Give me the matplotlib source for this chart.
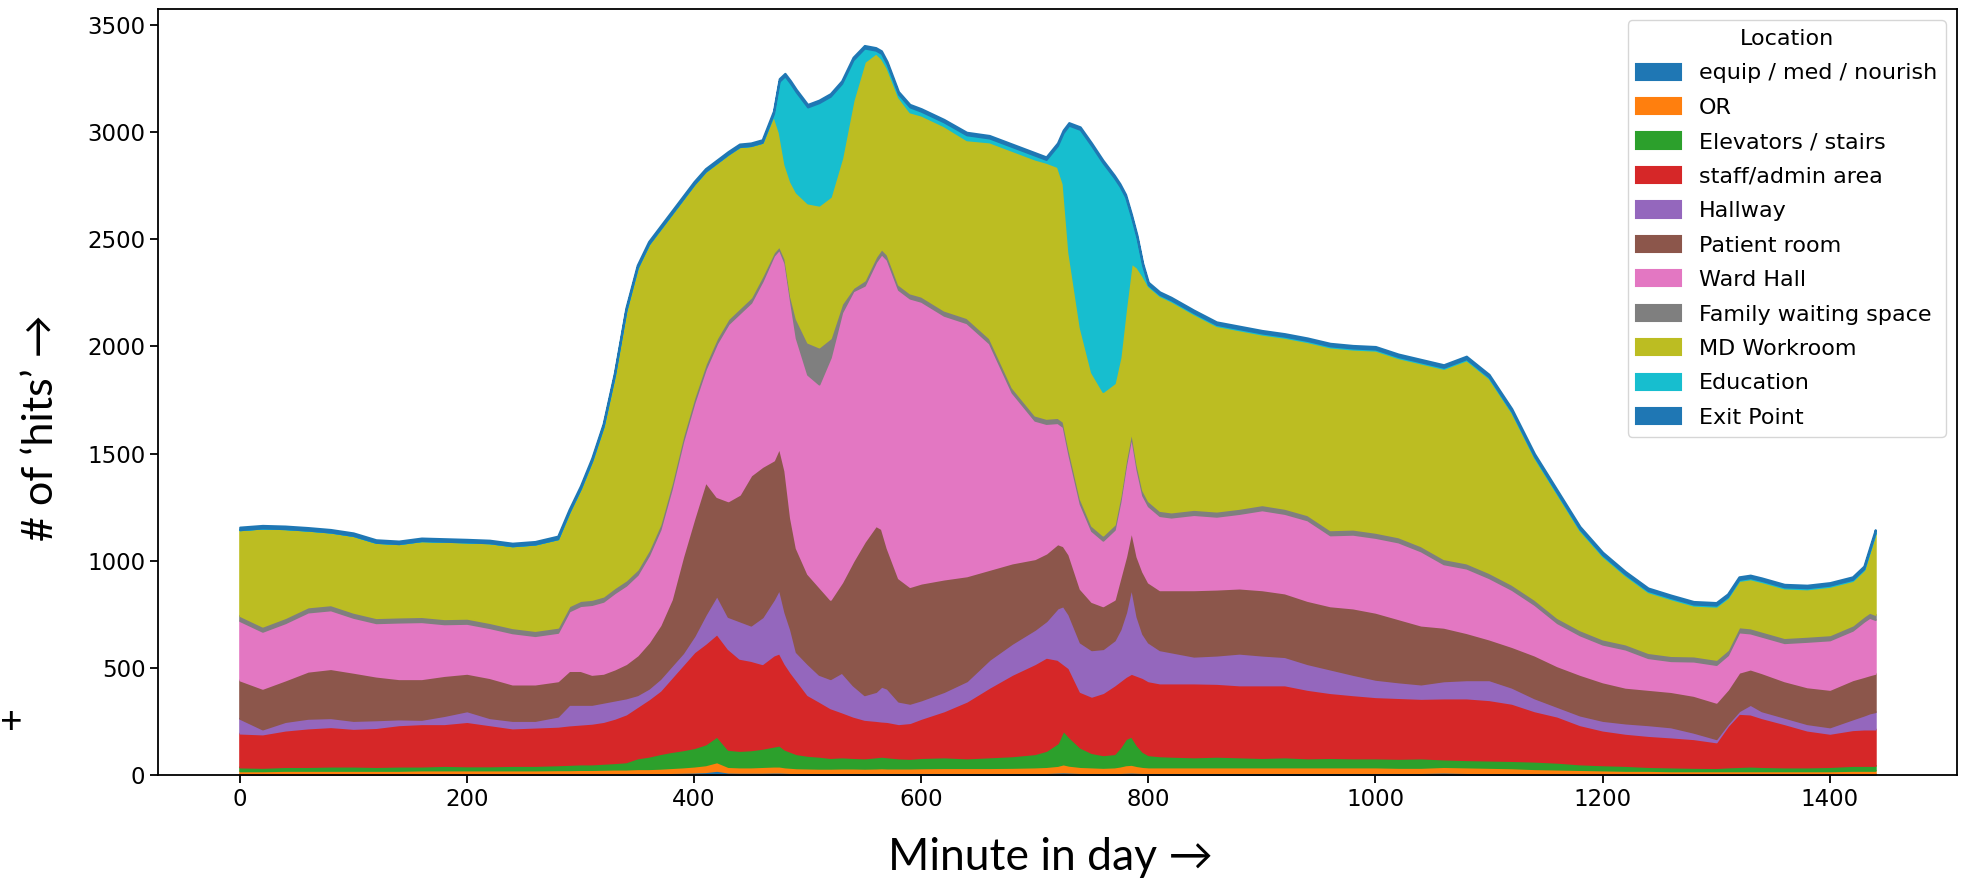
import numpy as np
import matplotlib
matplotlib.use("Agg")
import matplotlib.pyplot as plt

# Minute-of-day samples (denser around sharp peaks)
minute = [0, 20, 40, 60, 80, 100, 120, 140, 160, 180, 200, 220, 240, 260, 280,
          290, 300, 310, 320, 330, 340, 350, 360, 370, 380, 390, 400, 410, 420, 430, 440, 450, 460, 470,
          475, 480, 485, 490,
          500, 510, 520, 530, 540, 550, 560,
          565, 570,
          580, 590, 600,
          620, 640, 660, 680, 700,
          710, 720, 725, 730,
          740, 750, 760, 770,
          775, 780, 785, 790, 795, 800,
          810, 820,
          840, 860, 880, 900, 920, 940, 960, 980, 1000, 1020, 1040, 1060, 1080, 1100,
          1120, 1140, 1160, 1180, 1200, 1220, 1240, 1260, 1280, 1300,
          1310, 1320, 1330, 1340,
          1360, 1380, 1400, 1420,
          1430, 1435, 1440]

# Thin bottom layer (band thickness)
equip = [5, 5, 5, 5, 5, 5, 5, 5, 6, 6, 6, 6, 6, 6, 7,
         7, 7, 8, 8, 8, 9, 10, 10, 11, 12, 13, 14, 16, 22, 14, 13, 13, 13, 14,
         14, 13, 12, 12,
         12, 11, 11, 12, 12, 12, 12,
         12, 12,
         12, 12, 12,
         12, 12, 12, 12, 12,
         12, 14, 15, 14,
         12, 12, 12, 12,
         12, 13, 14, 13, 12, 12,
         12, 12,
         12, 12, 12, 12, 12, 12, 12, 12, 12, 12, 12, 14, 12, 10,
         10, 8, 8, 7, 6, 6, 6, 6, 6, 6,
         6, 6, 6, 6,
         6, 6, 6, 6,
         6, 6, 6]

# Upper edges of the bands
or_top = [20, 20, 22, 22, 22, 22, 22, 22, 24, 24, 24, 24, 24, 24, 25,
          25, 26, 26, 27, 28, 28, 30, 30, 32, 35, 38, 42, 48, 62, 40, 38, 38, 40, 42,
          42, 38, 36, 34,
          33, 32, 32, 33, 33, 32, 33,
          34, 33,
          33, 33, 34,
          35, 35, 35, 36, 38,
          40, 45, 52, 46,
          40, 38, 36, 38,
          42, 48, 50, 44, 40, 38,
          38, 38,
          38, 38, 38, 38, 38, 38, 38, 38, 38, 36, 36, 40, 38, 36,
          34, 30, 28, 26, 24, 22, 22, 20, 20, 20,
          20, 20, 20, 20,
          20, 20, 20, 22,
          22, 22, 22]

elev_top = [38, 36, 40, 40, 42, 42, 40, 42, 42, 45, 43, 43, 45, 45, 48,
            50, 52, 52, 55, 58, 62, 80, 88, 100, 110, 118, 128, 145, 182, 120, 115, 118, 125, 135,
            140, 120, 110, 100,
            92, 88, 82, 85, 82, 80, 85,
            88, 85,
            80, 78, 82,
            85, 80, 85, 90, 100,
            115, 150, 210, 180,
            130, 105, 95, 100,
            130, 170, 182, 140, 110, 95,
            90, 88,
            85, 88, 85, 82, 85, 80, 82, 80, 80, 78, 80, 75, 72, 70,
            68, 65, 60, 52, 48, 45, 40, 38, 36, 35,
            38, 40, 42, 40,
            38, 38, 40, 45,
            45, 45, 45]

staff_top = [196, 192, 210, 220, 226, 218, 222, 235, 240, 240, 250, 235, 220, 224, 228,
             234, 238, 242, 250, 265, 285, 320, 355, 395, 455, 515, 575, 615, 660, 590, 545, 535, 520, 560,
             570, 520, 480, 445,
             375, 345, 314, 295, 275, 260, 255,
             252, 250,
             240, 245, 265,
             300, 345, 410, 470, 520,
             550, 540, 520, 500,
             390, 368, 385, 420,
             440, 460, 475, 465, 455, 440,
             430, 430,
             430, 428, 421, 421, 421, 400, 385, 375, 366, 362, 358, 360, 360, 352,
             335, 300, 275, 235, 210, 195, 185, 178, 170, 155,
             230, 288, 285, 268,
             240, 210, 195, 212,
             215, 215, 215]

hall_top = [265, 215, 250, 265, 268, 255, 258, 262, 260, 278, 300, 268, 255, 255, 275,
            330, 330, 330, 340, 350, 360, 375, 405, 450, 510, 570, 650, 750, 840, 740, 720, 700, 738, 820,
            870, 760, 680, 575,
            520, 470, 450, 480, 420, 375, 390,
            415, 405,
            345, 335, 351,
            390, 440, 540, 615, 680,
            720, 780, 790, 750,
            620, 585, 590, 630,
            680, 760, 880, 740, 660, 620,
            585, 575,
            555, 560, 569, 560, 553, 520, 495, 470, 447, 435, 425, 440, 445, 445,
            410, 360, 320, 280, 255, 243, 235, 225, 200, 170,
            240, 300, 330, 300,
            270, 240, 225, 262,
            280, 290, 296]

patient_top = [444, 405, 444, 485, 497, 480, 462, 450, 450, 465, 475, 455, 425, 425, 440,
               488, 488, 470, 475, 495, 520, 560, 620, 700, 820, 1020, 1200, 1370, 1300, 1280, 1310, 1400, 1440, 1470,
               1530, 1420, 1200, 1060,
               940, 880, 820, 900, 1000, 1090, 1165,
               1150, 1060,
               920, 880, 896,
               915, 930, 960, 990, 1010,
               1036, 1080, 1070, 1030,
               870, 810, 790, 820,
               920, 1020, 1145, 1020, 950, 900,
               865, 865,
               865, 868, 873, 865, 850, 815, 790, 780, 760, 730, 700, 690, 665, 635,
               600, 560, 510, 470, 435, 410, 400, 390, 372, 340,
               400, 480, 495, 478,
               440, 412, 400, 445,
               460, 468, 475]

ward_top = [721, 671, 711, 761, 771, 736, 711, 714, 716, 706, 708, 688, 664, 651, 666,
            766, 791, 796, 811, 851, 886, 936, 1026, 1146, 1336, 1556, 1739, 1896, 2016, 2106, 2156, 2206, 2306, 2425,
            2455, 2390, 2210, 2040,
            1870, 1825, 1950, 2160, 2260, 2286, 2396,
            2433, 2406,
            2266, 2226, 2211,
            2146, 2111, 2016, 1786, 1656,
            1641, 1645, 1626, 1496,
            1266, 1141, 1096, 1146,
            1276, 1446, 1586, 1426, 1306, 1256,
            1211, 1204,
            1216, 1208, 1221, 1238, 1221, 1191, 1121, 1124, 1109, 1088, 1046, 986, 966, 921,
            866, 796, 711, 654, 611, 588, 548, 534, 532, 516,
            561, 668, 663, 648,
            618, 624, 631, 676,
            718, 736, 726]

family_top = [745, 695, 735, 785, 795, 760, 735, 738, 740, 730, 732, 712, 688, 675, 690,
              790, 815, 820, 835, 875, 910, 960, 1050, 1170, 1360, 1580, 1763, 1920, 2040, 2130, 2180, 2230, 2330, 2440,
              2470, 2410, 2234, 2130,
              2020, 1998, 2040, 2200, 2275, 2310, 2420,
              2457, 2430,
              2290, 2250, 2235,
              2170, 2135, 2040, 1810, 1680,
              1665, 1669, 1650, 1520,
              1290, 1165, 1120, 1170,
              1300, 1470, 1610, 1450, 1330, 1280,
              1235, 1228,
              1240, 1232, 1245, 1262, 1245, 1215, 1145, 1148, 1133, 1112, 1070, 1010, 990, 945,
              890, 820, 735, 678, 635, 612, 572, 558, 556, 540,
              585, 692, 687, 672,
              642, 648, 655, 700,
              742, 760, 750]

md_top = [1145, 1153, 1150, 1143, 1134, 1118, 1086, 1080, 1094, 1091, 1088, 1084, 1070, 1078, 1103,
          1228, 1338, 1468, 1628, 1868, 2168, 2368, 2478, 2548, 2618, 2688, 2758, 2818, 2858, 2898, 2933, 2938, 2953, 3080,
          3000, 2850, 2770, 2720,
          2670, 2660, 2700, 2880, 3150, 3330, 3370,
          3345, 3300,
          3165, 3095, 3080,
          3030, 2965, 2955, 2915, 2875,
          2860, 2840, 2760, 2440,
          2090, 1880, 1790, 1830,
          1950, 2180, 2390, 2370, 2330, 2283,
          2238, 2213,
          2153, 2098, 2078, 2058, 2043, 2023, 1998, 1988, 1983, 1948, 1923, 1898, 1938, 1853,
          1693, 1483, 1313, 1143, 1023, 933, 856, 823, 793, 788,
          828, 908, 916, 903,
          873, 869, 881, 908,
          958, 1043, 1128]

# Top line of the whole stack
total = [1157, 1165, 1162, 1155, 1146, 1130, 1098, 1092, 1106, 1103, 1100, 1096, 1082, 1090, 1115,
         1240, 1350, 1480, 1640, 1880, 2180, 2380, 2490, 2560, 2630, 2700, 2770, 2830, 2870, 2910, 2945, 2950, 2965, 3100,
         3250, 3275, 3240, 3200,
         3130, 3150, 3180, 3240, 3350, 3405, 3395,
         3380, 3330,
         3190, 3130, 3110,
         3060, 3000, 2985, 2945, 2905,
         2885, 2950, 3010, 3045,
         3025, 2950, 2870, 2800,
         2760, 2710, 2620, 2520, 2390, 2300,
         2255, 2230,
         2170, 2115, 2095, 2075, 2060, 2040, 2015, 2005, 2000, 1965, 1940, 1915, 1955, 1870,
         1710, 1500, 1330, 1160, 1040, 950, 873, 840, 810, 805,
         845, 925, 933, 920,
         890, 886, 898, 925,
         975, 1060, 1145]

# Exit Point band thickness (thin line on top)
exit_pt = [12, 12, 12, 12, 12, 12, 12, 12, 12, 12, 12, 12, 12, 12, 12,
           12, 12, 12, 12, 12, 12, 12, 12, 12, 12, 12, 12, 12, 12, 12, 12, 12, 12, 12,
           12, 12, 12, 12,
           12, 12, 12, 12, 12, 12, 12,
           12, 12,
           12, 12, 12,
           12, 12, 12, 12, 12,
           12, 12, 12, 12,
           12, 12, 12, 12,
           12, 12, 12, 12, 12, 12,
           12, 12,
           12, 12, 12, 12, 12, 12, 12, 12, 12, 12, 12, 12, 12, 12,
           12, 12, 12, 12, 12, 12, 12, 12, 12, 12,
           12, 12, 12, 12,
           12, 12, 12, 12,
           12, 12, 12]

locations = ["equip / med / nourish", "OR", "Elevators / stairs", "staff/admin area",
             "Hallway", "Patient room", "Ward Hall", "Family waiting space",
             "MD Workroom", "Education", "Exit Point"]


# Turn the read band edges into stacked layer values
def build_layers():
    eq = np.array(equip)
    tops = [np.array(t) for t in (or_top, elev_top, staff_top, hall_top,
                                   patient_top, ward_top, family_top, md_top)]
    layers = [eq]
    below = eq
    for top in tops:
        layers.append(top - below)
        below = top
    ex = np.array(exit_pt)
    education = np.array(total) - ex - below
    layers.append(education)
    layers.append(ex)
    return layers


def plot_location_hits(layers):
    fig = plt.figure(figsize=(19.67, 8.81), dpi=100)
    ax = fig.add_axes([0.0803, 0.1203, 0.9146, 0.8695])

    ax.stackplot(minute, *layers, labels=locations, linewidth=1.5, edgecolor="face")

    ax.tick_params(labelsize=16.5, length=5.5, width=1.3)
    for spine in ax.spines.values():
        spine.set_linewidth(1.3)

    ax.legend(loc="upper right", title="Location", fontsize=16, title_fontsize=16,
              labelspacing=0.65, handleheight=0.75)

    label_font = ["Lato", "DejaVu Sans"]
    fig.text(0.534, 1 - 858 / 881, "Minute in day \u2192", ha="center", va="center",
             fontsize=32, family=label_font)
    fig.text(0.021, 1 - 428 / 881, "# of \u2018hits\u2019 \u2192", ha="center", va="center",
             rotation=90, fontsize=31, family=label_font)
    fig.text(0.0, 1 - 722 / 881, "+", ha="left", va="center", fontsize=28, family=label_font)

    fig.savefig("out.png", dpi=100)


if __name__ == "__main__":
    plot_location_hits(build_layers())
